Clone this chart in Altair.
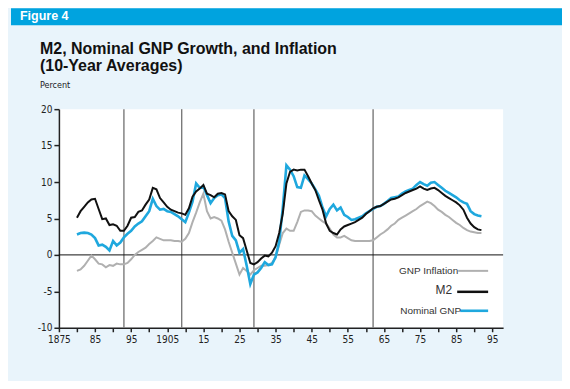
import altair as alt
import pandas as pd

# ---------------- data ----------------
years = list(range(1880, 1993))
m2 = [5.1, 6.0, 6.6, 7.2, 7.6, 7.7, 6.3, 4.9, 5.0, 4.1,
      4.2, 4.0, 3.3, 3.3, 4.0, 5.1, 5.2, 5.9, 6.1, 6.9,
      7.6, 9.2, 9.0, 7.8, 7.2, 6.6, 6.2, 6.0, 5.8, 5.7,
      5.5, 6.4, 8.0, 8.7, 9.1, 9.6, 8.4, 8.2, 7.9, 8.4,
      8.5, 8.3, 6.0, 5.3, 4.8, 2.7, 2.3, 0.6, -1.1, -1.3,
      -1.0, -0.5, -0.1, -0.2, 0.3, 1.2, 3.0, 5.7, 9.8, 11.4,
      11.7, 11.6, 11.7, 11.7, 10.8, 9.8, 8.9, 7.5, 6.2, 4.3,
      3.3, 3.0, 2.8, 3.5, 3.9, 4.1, 4.3, 4.5, 4.8, 5.1,
      5.6, 6.0, 6.4, 6.6, 6.7, 7.0, 7.3, 7.6, 7.7, 7.9,
      8.2, 8.5, 8.7, 8.9, 9.1, 9.4, 9.1, 8.9, 9.1, 9.2,
      8.9, 8.5, 8.1, 7.8, 7.5, 7.2, 6.8, 6.2, 5.1, 4.3,
      3.8, 3.5, 3.4]
nominal_gnp = [2.8, 3.0, 3.05, 3.0, 2.8, 2.3, 1.3, 1.4, 1.1, 0.6,
               1.9, 1.3, 1.7, 2.4, 2.9, 3.3, 3.9, 4.3, 4.6, 5.3,
               6.0, 7.7, 6.7, 6.2, 6.3, 6.0, 5.9, 5.6, 5.3, 4.9,
               4.5, 5.8, 7.3, 9.8, 9.2, 9.4, 8.2, 7.1, 7.8, 8.2,
               8.3, 7.8, 4.6, 2.6, 2.0, 0.3, 0.8, -1.5, -4.0, -2.7,
               -2.4, -1.8, -1.0, -1.4, -1.3, -0.3, 1.8, 6.5, 12.3, 11.7,
               10.8, 9.3, 9.2, 10.9, 10.4, 9.8, 9.0, 8.1, 6.5, 5.3,
               6.3, 6.9, 6.1, 6.5, 5.5, 5.2, 4.8, 4.9, 5.1, 5.3,
               5.7, 6.0, 6.3, 6.6, 6.7, 7.0, 7.4, 7.8, 7.9, 8.0,
               8.4, 8.7, 8.9, 9.1, 9.6, 10.0, 9.7, 9.5, 9.9, 10.0,
               9.6, 9.2, 8.8, 8.5, 8.2, 7.9, 7.5, 7.2, 7.0, 6.0,
               5.6, 5.4, 5.3]
gnp_inflation = [-2.2, -2.0, -1.5, -0.8, -0.1, -0.6, -1.2, -1.3, -1.7, -1.4,
                 -1.5, -1.2, -1.3, -1.3, -1.1, -0.6, 0.0, 0.4, 0.7, 1.0,
                 1.5, 1.9, 2.4, 2.2, 2.0, 2.0, 2.0, 1.9, 1.9, 1.8,
                 2.2, 3.0, 4.5, 5.8, 7.2, 8.4, 6.0, 5.0, 5.2, 5.0,
                 4.7, 3.5, 1.8, 0.3, -1.2, -2.7, -1.8, -2.2, -2.7, -2.1,
                 -1.8, -1.5, -1.5, -1.4, -1.1, -0.4, 1.4, 3.0, 3.6, 3.3,
                 3.3, 4.5, 5.9, 6.1, 6.1, 6.0, 5.4, 5.0, 4.6, 4.3,
                 3.6, 2.8, 2.4, 2.4, 2.6, 2.3, 2.0, 1.9, 1.9, 1.9,
                 1.9, 1.9, 2.0, 2.4, 2.8, 3.1, 3.5, 4.0, 4.3, 4.8,
                 5.1, 5.4, 5.7, 6.0, 6.3, 6.7, 7.0, 7.3, 7.1, 6.7,
                 6.2, 5.9, 5.5, 5.2, 4.8, 4.4, 4.1, 3.7, 3.4, 3.2,
                 3.1, 3.0, 3.0]
marker_years = [1893, 1909, 1929, 1962]
x_tick_years = list(range(1875, 1996, 5))
y_ticks = [-10, -5, 0, 5, 10, 15, 20]
figure_label = "Figure 4"
title_lines = ["M2, Nominal GNP Growth, and Inflation", "(10-Year Averages)"]
unit_label = "Percent"
legend_labels = ["GNP Inflation", "M2", "Nominal GNP"]

# ---------------- styles ----------------
BLUE = "#1fa8de"
BLACK = "#111111"
GRAY = "#b0b0b0"
HEADER = "#00a3df"
PANEL = "#e9f4fb"
NARROW = "Liberation Sans Narrow, DejaVu Sans Condensed, Arial Narrow, sans-serif"
SANS = "Liberation Sans, Arial, sans-serif"

df = pd.DataFrame({"year": years, "m2": m2, "gnp": nominal_gnp, "infl": gnp_inflation})

x_scale = alt.Scale(domain=[1875, 1998], nice=False, zero=False)
y_scale = alt.Scale(domain=[-10, 20], nice=False, zero=False)
label_expr = ("datum.value % 10 == 5 ? ((datum.value == 1875 || datum.value == 1905) ? "
              "'' + datum.value : substring('' + datum.value, 2)) : ''")
x_axis = alt.Axis(values=x_tick_years, labelExpr=label_expr, title=None, grid=False,
                  tickSize=4, tickWidth=1.5, tickColor="#222", domainColor="#222",
                  domainWidth=1.5, labelFont=NARROW, labelFontSize=10, labelColor="#222",
                  labelPadding=3, labelFlush=False, labelOverlap=False)
y_axis = alt.Axis(values=y_ticks, labelExpr="'' + datum.value", title=None, grid=False,
                  tickSize=5, tickWidth=1.5,
                  tickColor="#222", domainColor="#222", domainWidth=1.5,
                  labelFont=NARROW, labelFontSize=10, labelColor="#222", labelPadding=2)

base = alt.Chart(df)
X = alt.X("year:Q", scale=x_scale, axis=x_axis)

infl_line = base.mark_line(color=GRAY, strokeWidth=2).encode(
    x=X, y=alt.Y("infl:Q", scale=y_scale, axis=y_axis))
gnp_line = base.mark_line(color=BLUE, strokeWidth=2.6).encode(
    x=X, y=alt.Y("gnp:Q", scale=y_scale, axis=y_axis))
m2_line = base.mark_line(color=BLACK, strokeWidth=2).encode(
    x=X, y=alt.Y("m2:Q", scale=y_scale, axis=y_axis))

markers = alt.Chart(pd.DataFrame({"year": marker_years})).mark_rule(
    color="#7a7a7a", strokeWidth=1.4).encode(x=X)
zero_line = alt.Chart(pd.DataFrame({"z": [0]})).mark_rule(
    color="#111", strokeWidth=1).encode(y=alt.Y("z:Q", scale=y_scale, axis=y_axis))

one = pd.DataFrame({"k": [0]})

header_bar = alt.Chart(one).mark_rect(color=HEADER).encode(
    x=alt.value(-48), x2=alt.value(504), y=alt.value(-101), y2=alt.value(-84))
header_text = alt.Chart(pd.DataFrame({"t": [figure_label]})).mark_text(
    align="left", baseline="alphabetic", font=SANS, fontSize=12.5, fontWeight="bold",
    color="white").encode(x=alt.value(-39), y=alt.value(-89), text="t:N")
title1 = alt.Chart(pd.DataFrame({"t": [title_lines[0]]})).mark_text(
    align="left", baseline="alphabetic", font=SANS, fontSize=16, fontWeight="bold",
    color="#111").encode(x=alt.value(-19), y=alt.value(-55), text="t:N")
title2 = alt.Chart(pd.DataFrame({"t": [title_lines[1]]})).mark_text(
    align="left", baseline="alphabetic", font=SANS, fontSize=16, fontWeight="bold",
    color="#111").encode(x=alt.value(-19), y=alt.value(-38), text="t:N")
unit_text = alt.Chart(pd.DataFrame({"t": [unit_label]})).mark_text(
    align="left", baseline="alphabetic", font=NARROW, fontSize=9,
    color="#222").encode(x=alt.value(-19), y=alt.value(-21), text="t:N")

def legend_item(label, color, width, text_x, text_y, size, line_x, line_y):
    txt = alt.Chart(pd.DataFrame({"t": [label]})).mark_text(
        align="right", baseline="middle", font=SANS, fontSize=size, color="#333").encode(
        x=alt.value(text_x), y=alt.value(text_y), text="t:N")
    seg = alt.Chart(one).mark_rule(color=color, strokeWidth=width).encode(
        x=alt.value(line_x), x2=alt.value(430), y=alt.value(line_y))
    return [seg, txt]

legend_layers = (legend_item(legend_labels[0], GRAY, 2, 400, 162, 10, 400, 162)
                 + legend_item(legend_labels[1], BLACK, 2.5, 394, 181, 12, 399, 183)
                 + legend_item(legend_labels[2], BLUE, 2.6, 403, 202, 10, 402, 202))

chart = alt.layer(
    header_bar, header_text, title1, title2, unit_text,
    markers, zero_line, infl_line, gnp_line, m2_line, *legend_layers
).properties(
    width=445, height=219,
    padding={"left": 51, "top": 101, "right": 59, "bottom": 53},
    autosize=alt.AutoSizeParams(type="none"),
    background=PANEL,
).configure_view(fill="white", strokeWidth=0)

chart.save("out.html", embed_options={"renderer": "svg", "actions": False})
